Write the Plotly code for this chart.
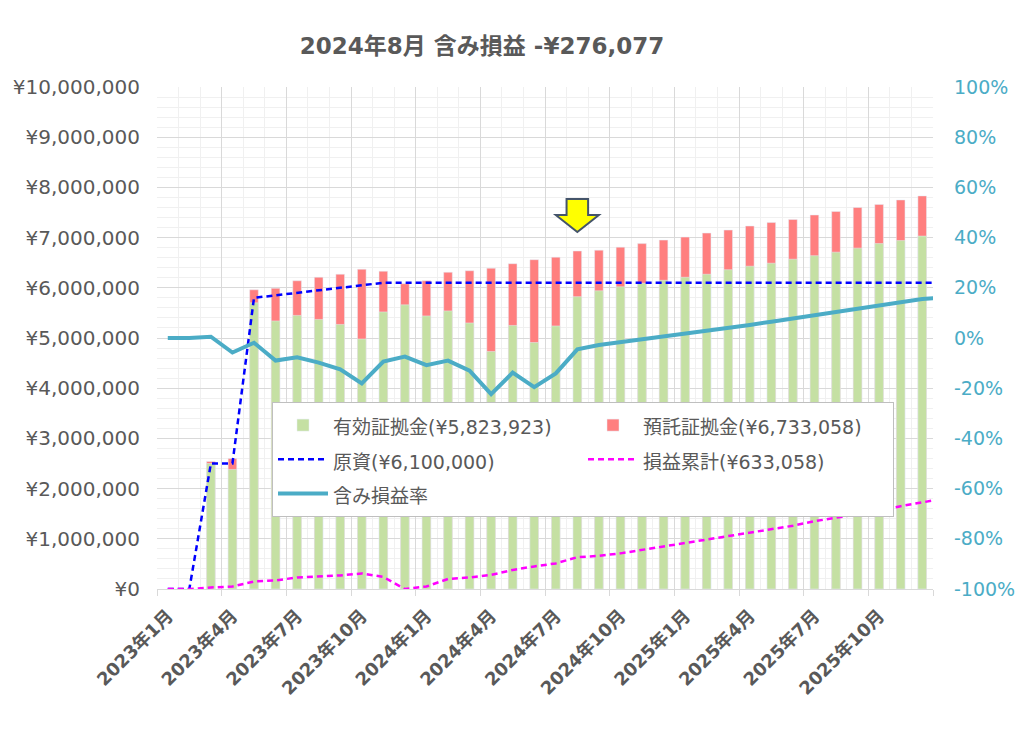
import plotly.graph_objects as go

# ---- data (yen) ----
months = ["2023-01", "2023-02", "2023-03", "2023-04", "2023-05", "2023-06", "2023-07", "2023-08",
          "2023-09", "2023-10", "2023-11", "2023-12", "2024-01", "2024-02", "2024-03", "2024-04",
          "2024-05", "2024-06", "2024-07", "2024-08", "2024-09", "2024-10", "2024-11", "2024-12",
          "2025-01", "2025-02", "2025-03", "2025-04", "2025-05", "2025-06", "2025-07", "2025-08",
          "2025-09", "2025-10", "2025-11", "2025-12", "2026-01"]

tick_labels = ["2023年1月", "2023年4月", "2023年7月", "2023年10月", "2024年1月", "2024年4月",
               "2024年7月", "2024年10月", "2025年1月", "2025年4月", "2025年7月", "2025年10月"]
tick_months = ["2023-01", "2023-04", "2023-07", "2023-10", "2024-01", "2024-04",
               "2024-07", "2024-10", "2025-01", "2025-04", "2025-07", "2025-10"]

deposit = [None, None, 2540000, 2600000, 5960000, 5990000, 6140000, 6210000, 6270000, 6370000,
           6330000, 6080000, 6140000, 6310000, 6340000, 6390000, 6480000, 6560000, 6610000,
           6733058, 6750000, 6810000, 6880000, 6950000, 7010000, 7090000, 7150000, 7230000,
           7300000, 7360000, 7450000, 7520000, 7600000, 7660000, 7750000, 7830000, None]

effective = [None, None, 2500000, 2380000, 5700000, 5340000, 5450000, 5370000, 5270000, 4980000,
             5520000, 5660000, 5440000, 5540000, 5300000, 4730000, 5250000, 4910000, 5240000,
             5823923, 5940000, 6020000, 6090000, 6150000, 6210000, 6270000, 6360000, 6430000,
             6490000, 6570000, 6640000, 6710000, 6790000, 6880000, 6940000, 7030000, None]

principal = [0, 0, 2500000, 2500000, 5800000, 5850000, 5900000, 5950000, 6000000, 6050000,
             6100000, 6100000, 6100000, 6100000, 6100000, 6100000, 6100000, 6100000, 6100000,
             6100000, 6100000, 6100000, 6100000, 6100000, 6100000, 6100000, 6100000, 6100000,
             6100000, 6100000, 6100000, 6100000, 6100000, 6100000, 6100000, 6100000, 6100000]

cum_pl = [0, 0, 30000, 50000, 150000, 170000, 230000, 250000, 270000, 310000,
          240000, 0, 50000, 200000, 230000, 280000, 380000, 450000, 510000,
          633058, 660000, 710000, 780000, 850000, 910000, 990000, 1050000, 1130000,
          1200000, 1260000, 1350000, 1420000, 1500000, 1560000, 1650000, 1730000, 1800000]

unreal_rate = [0.0, 0.0, 0.005, -0.058, -0.019, -0.090, -0.077, -0.098, -0.125, -0.181,
               -0.094, -0.074, -0.108, -0.090, -0.130, -0.224, -0.138, -0.196, -0.141,
               -0.045, -0.028, -0.017, -0.004, 0.008, 0.020, 0.030, 0.040, 0.052,
               0.065, 0.078, 0.092, 0.102, 0.118, 0.131, 0.145, 0.155, 0.161]

pct_vals = [-1.0, -0.8, -0.6, -0.4, -0.2, 0.0, 0.2, 0.4, 0.6, 0.8, 1.0]
pct_text = ["-100%", "-80%", "-60%", "-40%", "-20%", "0%", "20%", "40%", "60%", "80%", "100%"]

title_text = "2024年8月 含み損益 -¥276,077"
current_month = "2024-08"
arrow_top, arrow_neck, arrow_tip = 7770000, 7450000, 7110000

# ---- figure ----
FONT = "DejaVu Sans, Noto Sans CJK JP, sans-serif"
GRAY = "#595959"
CYAN = "#4bacc6"

W, H = 1016, 733
L, R, T, B = 149, 91, 79, 152

x = list(range(len(months)))
n_shown = 36


def leg(name):
    return f'<span style="font-size:19px">{name}</span>'


fig = go.Figure()
fig.add_trace(go.Bar(x=x, y=deposit, name=leg("預託証拠金(¥6,733,058)"), marker_color="#ff7f7f",
                     width=0.4, legendrank=2))
fig.add_trace(go.Bar(x=x, y=effective, name=leg("有効証拠金(¥5,823,923)"), marker_color="#c5e0a3",
                     width=0.4, legendrank=1))
fig.add_trace(go.Scatter(x=x, y=principal, name=leg("原資(¥6,100,000)"), mode="lines",
                         line=dict(color="#0000ff", width=2.5, dash="6px,4px"), legendrank=3))
fig.add_trace(go.Scatter(x=x, y=cum_pl, name=leg("損益累計(¥633,058)"), mode="lines",
                         line=dict(color="#ff00ff", width=2.5, dash="6px,4px"), legendrank=4))
fig.add_trace(go.Scatter(x=x, y=unreal_rate, name=leg("含み損益率"), mode="lines", yaxis="y2",
                         line=dict(color=CYAN, width=4), legendrank=5))
# invisible trace so the label axis (x2) is rendered
fig.add_trace(go.Scatter(x=[None], y=[None], xaxis="x2", yaxis="y", showlegend=False,
                         hoverinfo="skip", mode="lines"))

# yellow arrow over current month
ci = months.index(current_month)
path = (f"M {ci-0.5},{arrow_top} L {ci+0.5},{arrow_top} L {ci+0.5},{arrow_neck} "
        f"L {ci+1.0},{arrow_neck} L {ci},{arrow_tip} L {ci-1.0},{arrow_neck} "
        f"L {ci-0.5},{arrow_neck} Z")
fig.add_shape(type="path", path=path, xref="x", yref="y", fillcolor="#ffff00",
              line=dict(color="#44546a", width=2), layer="above")

boundaries = [i - 0.5 for i in range(0, n_shown + 1, 3)]
xr = [-0.5, n_shown - 0.5]
pw, ph = W - L - R, H - T - B

fig.update_layout(
    width=W, height=H,
    margin=dict(l=L, r=R, t=T, b=B, autoexpand=False),
    paper_bgcolor="white", plot_bgcolor="white",
    barmode="overlay",
    font=dict(family=FONT, color=GRAY, size=16),
    title=dict(text=f"<b>{title_text}</b>", x=(482 - 157) / pw, xanchor="center",
               y=1 - 38 / H, yanchor="middle", yref="container", xref="paper",
               font=dict(size=23, color=GRAY, family=FONT)),
    xaxis=dict(range=xr, tickvals=boundaries, showticklabels=False, automargin=False,
               showgrid=True, gridcolor="#d9d9d9", gridwidth=1,
               ticks="outside", ticklen=6, tickcolor="#d9d9d9",
               minor=dict(dtick=1, tick0=-0.5, showgrid=True, gridcolor="#f0f0f0", ticks=""),
               zeroline=False, showline=True, linecolor="#d9d9d9"),
    xaxis2=dict(range=xr, overlaying="x", anchor="y", side="bottom", automargin=False,
                tickvals=[months.index(m) for m in tick_months],
                ticktext=[f"<b>{t}</b>" for t in tick_labels],
                tickangle=-45, showgrid=False, ticks="", zeroline=False, showline=False,
                ticklabelstandoff=12,
                tickfont=dict(size=18, color=GRAY, family=FONT)),
    yaxis=dict(range=[0, 10000000], dtick=1000000, tickprefix="¥", tickformat=",d",
               automargin=False,
               showgrid=True, gridcolor="#d9d9d9", gridwidth=1, zeroline=False,
               minor=dict(dtick=200000, showgrid=True, gridcolor="#f0f0f0"),
               tickfont=dict(size=20, color=GRAY, family=FONT), ticks="",
               ticklabelstandoff=16),
    yaxis2=dict(range=[-1, 1], overlaying="y", side="right", tickvals=pct_vals,
                automargin=False,
                ticktext=pct_text, showgrid=False, zeroline=False, ticklabelstandoff=20,
                tickfont=dict(size=19, color=CYAN, family=FONT)),
    legend=dict(orientation="h", x=(272 - 157) / pw, y=(589 - 402) / ph,
                xanchor="left", yanchor="top", bgcolor="white", bordercolor="#bfbfbf",
                borderwidth=1, entrywidth=245, itemwidth=50,
                font=dict(size=24, color=GRAY, family=FONT),
                traceorder="normal"),
    showlegend=True,
)

fig.write_html("out.html")
